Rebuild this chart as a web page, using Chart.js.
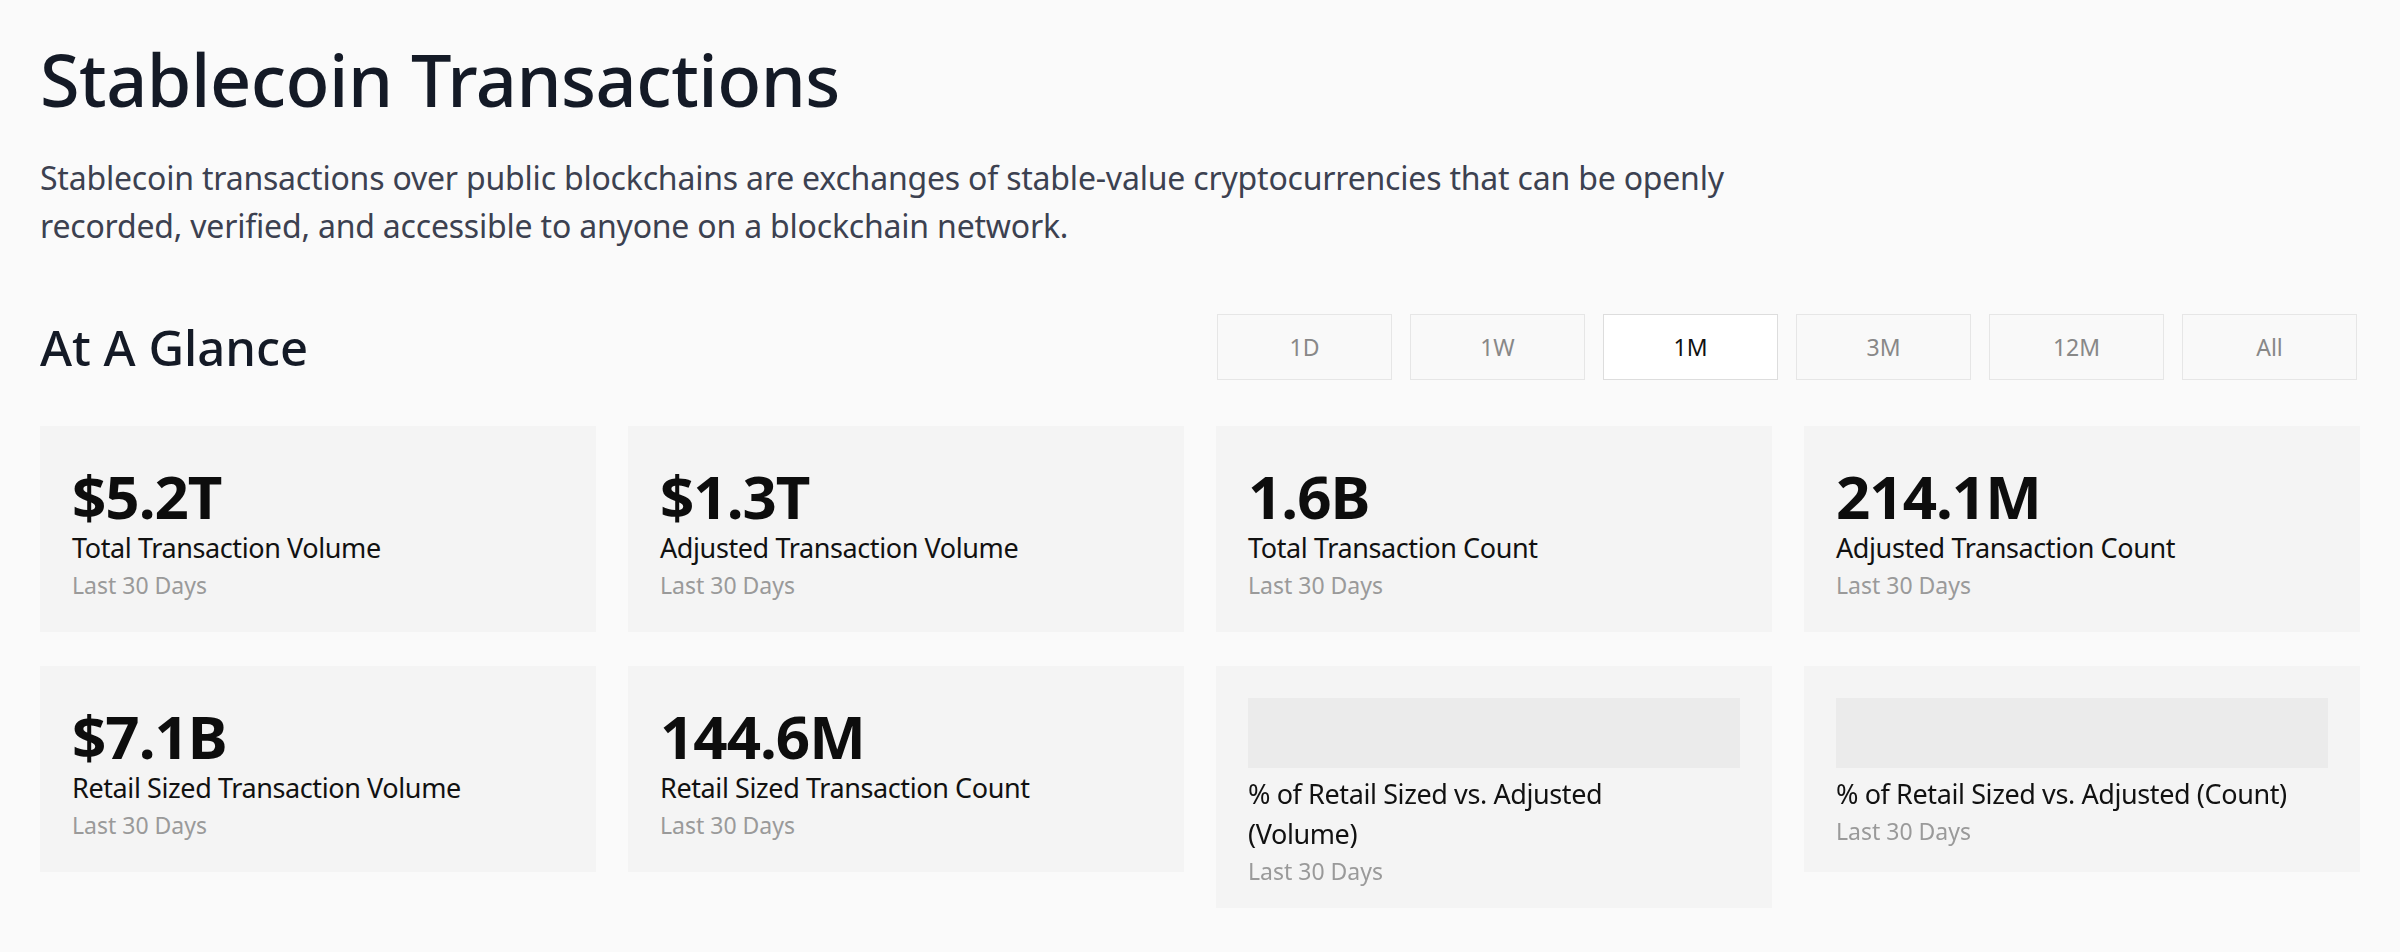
<!DOCTYPE html>
<html lang="en">
<head>
<meta charset="UTF-8">
<title>Stablecoin Transactions</title>
<script src="https://cdn.jsdelivr.net/npm/chart.js"></script>
<style>
    body { margin: 0; background: #fafafa; font-family: 'Noto Sans', sans-serif; color: #141a26; width: 2400px; height: 952px; overflow: hidden; }
    .page { position: relative; padding: 0 40px; }
    h1 { margin: 0; position: absolute; top: 30px; left: 40px; font-size: 72px; font-weight: 500; letter-spacing: -0.5px; }
    .desc { position: absolute; top: 154px; left: 40px; width: 1720px; font-size: 32px; line-height: 48px; color: #3c4150; margin: 0; letter-spacing: -0.2px; }
    h2 { position: absolute; top: 314px; left: 40px; margin: 0; font-size: 49px; font-weight: 500; }
    .ranges { position: absolute; top: 314px; left: 1217px; display: flex; gap: 18px; }
    .ranges div { width: 173px; height: 64px; border: 1px solid #e6e6e6; display: flex; align-items: center; justify-content: center; font-size: 23px; color: #888; background: #f9f9f9; }
    .ranges div.on { background: #fff; color: #111; border-color: #ddd; }
    .grid { position: absolute; top: 426px; left: 40px; display: grid; grid-template-columns: repeat(4, 556px); column-gap: 32px; row-gap: 34px; align-items: start; }
    .card { background: #f4f4f4; padding: 32px 32px 0; box-sizing: border-box; min-height: 206px; }
    .num { font-size: 60px; font-weight: 700; line-height: 60px; margin-top: 8px; letter-spacing: -1px; color: #0d0d0d; }
    .lbl { font-size: 27px; line-height: 40px; margin-top: 2px; color: #111; letter-spacing: -0.4px; }
    .sub { font-size: 23px; color: #9a9a9a; line-height: 34px; padding-bottom: 20px; }
    .ph { height: 70px; margin-bottom: 6px; }
</style>
</head>
<body>
<div class="page">
    <h1>Stablecoin Transactions</h1>
    <p class="desc">Stablecoin transactions over public blockchains are exchanges of stable-value cryptocurrencies that can be openly recorded, verified, and accessible to anyone on a blockchain network.</p>
    <h2>At A Glance</h2>
    <div class="ranges" id="ranges"></div>
    <div class="grid" id="grid"></div>
</div>

<script>
    const ranges = ['1D', '1W', '1M', '3M', '12M', 'All'];
    const activeRange = '1M';
    const metricValues = ['$5.2T', '$1.3T', '1.6B', '214.1M', '$7.1B', '144.6M', null, null];
    const metricLabels = ['Total Transaction Volume', 'Adjusted Transaction Volume', 'Total Transaction Count', 'Adjusted Transaction Count',
        'Retail Sized Transaction Volume', 'Retail Sized Transaction Count', '% of Retail Sized vs. Adjusted (Volume)', '% of Retail Sized vs. Adjusted (Count)'];
    const period = 'Last 30 Days';
    // placeholder fill for the loading cards (share of width)
    const placeholderFill = [1];

    const rangeBox = document.getElementById('ranges');
    ranges.forEach(r => {
        const d = document.createElement('div');
        d.textContent = r;
        if (r === activeRange) d.className = 'on';
        rangeBox.appendChild(d);
    });

    const grid = document.getElementById('grid');
    const placeholders = [];
    metricLabels.forEach((label, i) => {
        const card = document.createElement('div');
        card.className = 'card';
        if (metricValues[i] === null) {
            card.innerHTML = '<div class="ph"><canvas></canvas></div>';
            placeholders.push(card.querySelector('canvas'));
        } else {
            card.innerHTML = '<div class="num"></div>';
            card.querySelector('.num').textContent = metricValues[i];
        }
        const l = document.createElement('div');
        l.className = 'lbl';
        l.textContent = label;
        if (i === 6) l.style.width = '420px';
        const s = document.createElement('div');
        s.className = 'sub';
        s.textContent = period;
        card.appendChild(l);
        card.appendChild(s);
        grid.appendChild(card);
    });

    placeholders.forEach(cv => {
        new Chart(cv, {
            type: 'bar',
            data: { labels: [''], datasets: [{ data: placeholderFill, backgroundColor: '#ebebeb', barPercentage: 1, categoryPercentage: 1 }] },
            options: {
                indexAxis: 'y', responsive: true, maintainAspectRatio: false, animation: false,
                layout: { padding: 0 },
                plugins: { legend: { display: false }, tooltip: { enabled: false } },
                scales: { x: { display: false, min: 0, max: 1 }, y: { display: false } }
            }
        });
    });
</script>
</body>
</html>
